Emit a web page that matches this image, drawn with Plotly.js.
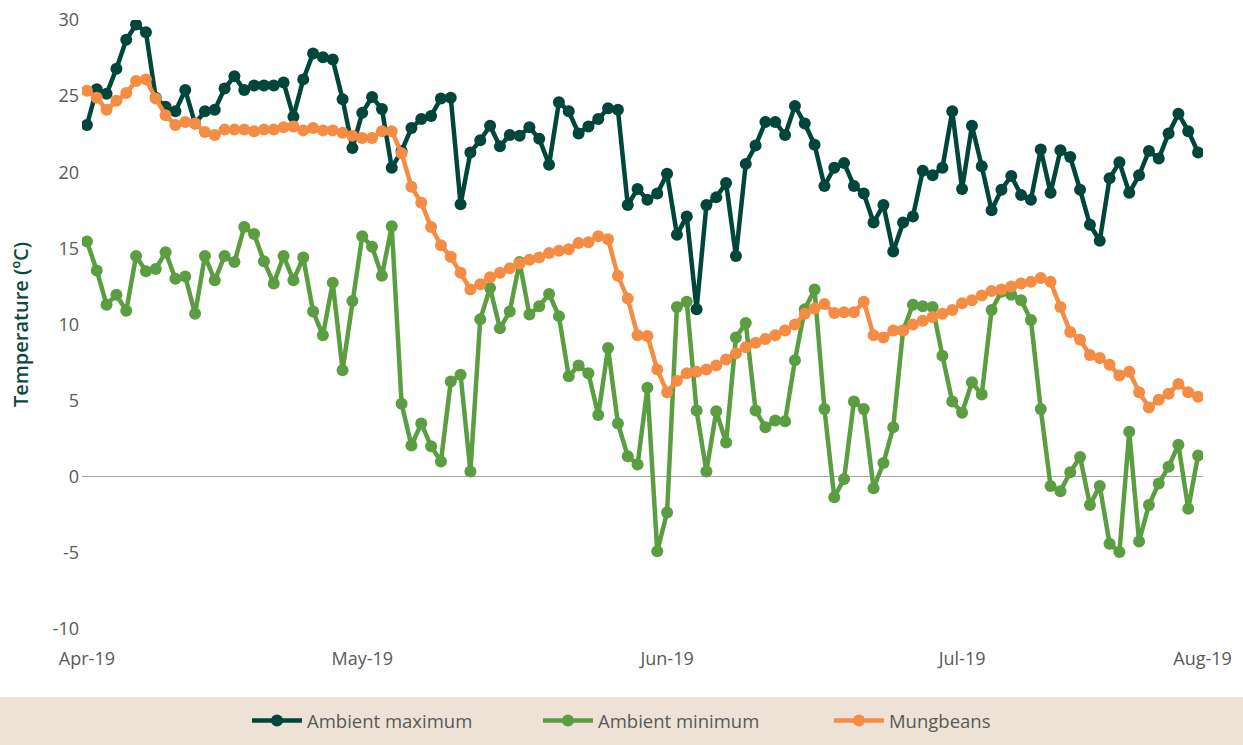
<!DOCTYPE html>
<html>
<head>
<meta charset="utf-8">
<script src="https://cdn.plot.ly/plotly-3.0.1.min.js"></script>
<style>html,body{margin:0;padding:0;background:#fff;}#chart{width:1243px;height:745px;}</style>
</head>
<body>
<div id="chart"></div>
<script>
// Daily records, first day 3 April 2019, consecutive days
const firstDay = '2019-04-03';

const ambientMax = [
  23.1, 25.45, 25.15, 26.8, 28.7, 29.7, 29.2, 24.9, 24.3, 24.0,
  25.4, 23.2, 24.0, 24.1, 25.5, 26.3, 25.4, 25.7, 25.7, 25.7,
  25.9, 23.65, 26.1, 27.8, 27.55, 27.4, 24.8, 21.6, 23.9, 24.95,
  24.15, 20.3, 21.4, 22.9, 23.5, 23.7, 24.85, 24.9, 17.9, 21.3,
  22.1, 23.05, 21.7, 22.45, 22.4, 22.95, 22.2, 20.5, 24.6, 24.0,
  22.55, 23.0, 23.5, 24.2, 24.1, 17.85, 18.9, 18.2, 18.6, 19.9,
  15.9, 17.1, 11.0, 17.85, 18.35, 19.3, 14.5, 20.55, 21.75, 23.3,
  23.3, 22.45, 24.35, 23.2, 21.8, 19.1, 20.3, 20.6, 19.1, 18.6,
  16.7, 17.85, 14.8, 16.7, 17.1, 20.1, 19.8, 20.3, 24.0, 18.9,
  23.05, 20.4, 17.5, 18.85, 19.75, 18.5, 18.2, 21.5, 18.65, 21.45,
  21.0, 18.85, 16.55, 15.5, 19.6, 20.65, 18.65, 19.8, 21.4, 20.9,
  22.55, 23.85, 22.7, 21.3
];

const ambientMin = [
  15.45, 13.55, 11.3, 11.95, 10.9, 14.5, 13.5, 13.65, 14.75, 13.0,
  13.15, 10.7, 14.5, 12.9, 14.5, 14.1, 16.4, 15.95, 14.15, 12.7,
  14.5, 12.9, 14.4, 10.85, 9.3, 12.75, 7.0, 11.55, 15.8, 15.1,
  13.2, 16.45, 4.8, 2.05, 3.5, 2.0, 1.0, 6.25, 6.7, 0.35,
  10.35, 12.4, 9.75, 10.85, 14.1, 10.65, 11.2, 12.0, 10.55, 6.6,
  7.3, 6.8, 4.05, 8.45, 3.5, 1.35, 0.8, 5.85, -4.9, -2.35,
  11.15, 11.5, 4.35, 0.35, 4.3, 2.25, 9.15, 10.1, 4.35, 3.25,
  3.7, 3.65, 7.65, 11.0, 12.3, 4.45, -1.35, -0.15, 4.95, 4.45,
  -0.75, 0.9, 3.25, 9.6, 11.3, 11.2, 11.15, 7.95, 4.95, 4.2,
  6.2, 5.4, 10.95, 12.15, 11.95, 11.6, 10.3, 4.45, -0.6, -0.95,
  0.3, 1.3, -1.85, -0.6, -4.4, -4.95, 2.95, -4.25, -1.85, -0.45,
  0.65, 2.1, -2.1, 1.4
];

const mungbeans = [
  25.35, 24.9, 24.1, 24.7, 25.2, 26.0, 26.1, 24.85, 23.75, 23.1,
  23.3, 23.2, 22.65, 22.45, 22.8, 22.8, 22.8, 22.7, 22.8, 22.8,
  22.95, 23.0, 22.75, 22.9, 22.75, 22.75, 22.6, 22.4, 22.25, 22.25,
  22.7, 22.7, 21.25, 19.05, 18.0, 16.4, 15.2, 14.45, 13.4, 12.3,
  12.65, 13.1, 13.4, 13.7, 14.0, 14.25, 14.4, 14.7, 14.85, 14.95,
  15.35, 15.4, 15.8, 15.6, 13.2, 11.7, 9.3, 9.25, 7.05, 5.55,
  6.3, 6.8, 6.9, 7.05, 7.3, 7.7, 8.1, 8.5, 8.8, 9.05,
  9.3, 9.6, 10.0, 10.7, 11.05, 11.35, 10.75, 10.8, 10.8, 11.5,
  9.3, 9.15, 9.6, 9.6, 10.0, 10.25, 10.5, 10.7, 10.95, 11.4,
  11.6, 11.9, 12.2, 12.3, 12.5, 12.7, 12.8, 13.05, 12.8, 11.15,
  9.5, 9.0, 8.0, 7.8, 7.35, 6.65, 6.9, 5.55, 4.55, 5.05,
  5.45, 6.1, 5.55, 5.25
];

const seriesNames = ['Ambient maximum', 'Ambient minimum', 'Mungbeans'];
const seriesColors = ['#00463b', '#5a9e41', '#f58c44'];
const tickDates = ['2019-04-03', '2019-05-01', '2019-06-01', '2019-07-01', '2019-07-25 11:00'];
const tickLabels = ['Apr-19', 'May-19', 'Jun-19', 'Jul-19', 'Aug-19'];
const yTicks = [-10, -5, 0, 5, 10, 15, 20, 25, 30];

// consecutive day categories
const dates = [];
(function () {
  const d0 = new Date(firstDay + 'T00:00:00Z');
  for (let i = 0; i < ambientMax.length; i++) {
    const d = new Date(d0.getTime() + i * 86400000);
    dates.push(d.toISOString().slice(0, 10));
  }
})();

const seriesValues = [ambientMax, ambientMin, mungbeans];
const traces = seriesValues.map((vals, k) => ({
  type: 'scatter',
  mode: 'lines+markers',
  name: seriesNames[k],
  x: dates,
  y: vals,
  line: {color: seriesColors[k], width: 4.5},
  marker: {color: seriesColors[k], size: 12},
  hoverinfo: 'x+y+name'
}));

const font = 'Open Sans, sans-serif';
const layout = {
  width: 1243,
  height: 745,
  margin: {l: 82, r: 40, t: 20, b: 116},
  paper_bgcolor: '#ffffff',
  plot_bgcolor: '#ffffff',
  showlegend: true,
  font: {family: font, color: '#595959', size: 18},
  xaxis: {
    type: 'date',
    range: ['2019-04-02 12:00', '2019-07-25 12:00'],
    tickmode: 'array',
    tickvals: tickDates,
    ticktext: tickLabels,
    showgrid: false,
    zeroline: false,
    showline: false,
    ticks: '',
    automargin: false,
    ticklabelstandoff: 17,
    tickfont: {family: font, size: 18, color: '#595959'}
  },
  yaxis: {
    range: [-10, 30],
    tickmode: 'array',
    tickvals: yTicks,
    ticktext: yTicks.map(String),
    showgrid: false,
    zeroline: true,
    zerolinecolor: '#a6a6a6',
    zerolinewidth: 1,
    showline: false,
    ticks: '',
    automargin: false,
    ticklabelstandoff: 2,
    tickfont: {family: font, size: 18, color: '#595959'},
    title: {
      text: 'Temperature (ºC)',
      font: {family: font, size: 20, color: '#0b4a3d', weight: 600},
      standoff: 18
    }
  },
  legend: {
    orientation: 'h',
    xref: 'container',
    yref: 'container',
    x: 0.1987,
    xanchor: 'left',
    y: 0.0322,
    yanchor: 'middle',
    bgcolor: 'rgba(0,0,0,0)',
    font: {family: font, size: 18.5, color: '#595959'},
    entrywidth: 226,
    itemwidth: 50
  },
  shapes: [{
    type: 'rect', xref: 'paper', yref: 'paper',
    x0: -0.2, x1: 1.2, y0: -0.1117, y1: -0.4,
    fillcolor: '#ede2d5', line: {width: 0}, layer: 'below'
  }]
};

Plotly.newPlot('chart', traces, layout, {displayModeBar: false, responsive: false});
</script>
</body>
</html>
